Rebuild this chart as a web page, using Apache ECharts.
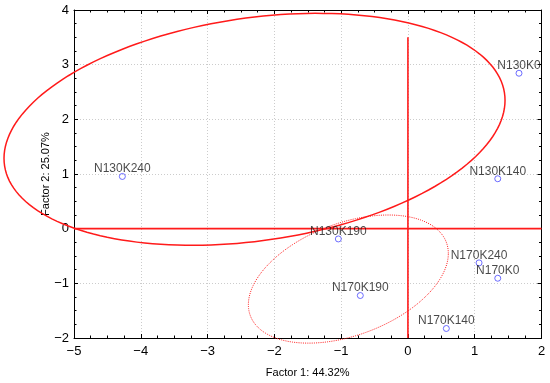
<!DOCTYPE html>
<html>
<head>
<meta charset="utf-8">
<script src="https://cdn.jsdelivr.net/npm/echarts@6/dist/echarts.min.js"></script>
<style>
html,body{margin:0;padding:0;background:#fff;}
#chart{width:550px;height:383px;}
</style>
</head>
<body>
<div id="chart"></div>
<script>
// ---- data ----
const pointNames = ['N130K0','N130K140','N130K240','N130K190','N170K240','N170K0','N170K190','N170K140'];
const factor1 = [1.663, 1.345, -4.276, -1.042, 1.065, 1.345, -0.713, 0.575];
const factor2 = [2.843, 0.913, 0.955, -0.188, -0.626, -0.907, -1.223, -1.826];

// confidence ellipses: centre, half extent along x, half extent along y, correlation
const ellipseCenterX = [-2.297, -0.892];
const ellipseCenterY = [1.817, -0.922];
const ellipseHalfX = [3.751, 1.497];
const ellipseHalfY = [2.122, 1.172];
const ellipseRho = [0.25, 0.40];

// reference lines
const hLine = [[-5, 0], [2, 0]];
const vLine = [[0, -2], [0, 3.5]];

const xTicks = {min: -5, max: 2, interval: 1};
const yTicks = {min: -2, max: 4, interval: 1};

// ---- chart ----
const FONT = 'Liberation Sans, Arial, sans-serif';
const fmt = v => v < 0 ? '\u2212' + Math.abs(v) : String(v);

const scatterData = pointNames.map((n, i) => ({name: n, value: [factor1[i], factor2[i]]}));
const ellipseData = ellipseCenterX.map((cx, i) => [cx, ellipseCenterY[i], ellipseHalfX[i], ellipseHalfY[i], ellipseRho[i]]);

function axisCommon(extra) {
  return Object.assign({
    type: 'value',
    axisLine: {show: true, onZero: false, lineStyle: {color: '#000', width: 1}},
    axisTick: {show: true, inside: true, length: 4, lineStyle: {color: '#000', width: 1}},
    minorTick: {show: true, splitNumber: 4, length: 2.5, lineStyle: {color: '#000', width: 1}},
    minorSplitLine: {show: false}
  }, extra);
}

const option = {
  animation: false,
  backgroundColor: '#fff',
  grid: {left: 74, right: 8.5, top: 10, bottom: 44.7, containLabel: false},
  xAxis: [
    axisCommon({
      min: xTicks.min, max: xTicks.max, interval: xTicks.interval, position: 'bottom',
      splitLine: {show: true, lineStyle: {color: '#cccccc', type: [1, 2], width: 1}},
      axisLabel: {show: true, formatter: fmt, color: '#000', fontFamily: FONT, fontSize: 13, margin: 7},
      name: 'Factor 1: 44.32%', nameLocation: 'middle', nameGap: 29, nameMoveOverlap: false,
      nameTextStyle: {color: '#000', fontFamily: FONT, fontSize: 11}
    }),
    axisCommon({
      min: xTicks.min, max: xTicks.max, interval: xTicks.interval, position: 'top',
      splitLine: {show: false}, axisLabel: {show: false}
    })
  ],
  yAxis: [
    axisCommon({
      min: yTicks.min, max: yTicks.max, interval: yTicks.interval, position: 'left',
      splitLine: {show: true, lineStyle: {color: '#cccccc', type: [1, 2], width: 1}},
      axisLabel: {show: true, formatter: fmt, color: '#000', fontFamily: FONT, fontSize: 13, margin: 5},
      name: 'Factor 2: 25.07%', nameLocation: 'middle', nameGap: 23, nameMoveOverlap: false,
      nameTextStyle: {color: '#000', fontFamily: FONT, fontSize: 11}
    }),
    axisCommon({
      min: yTicks.min, max: yTicks.max, interval: yTicks.interval, position: 'right',
      splitLine: {show: false}, axisLabel: {show: false}
    })
  ],
  series: [
    {
      type: 'custom',
      clip: false,
      silent: true,
      z: 3,
      encode: {x: 0, y: 1},
      data: ellipseData,
      renderItem: function (params, api) {
        const cx = api.value(0), cy = api.value(1), hx = api.value(2), hy = api.value(3), r = api.value(4);
        const s = Math.sqrt(1 - r * r);
        const pts = [];
        const N = 180;
        for (let k = 0; k <= N; k++) {
          const t = 2 * Math.PI * k / N;
          pts.push(api.coord([cx + hx * Math.cos(t), cy + hy * (r * Math.cos(t) + s * Math.sin(t))]));
        }
        const dotted = params.dataIndex === 1;
        return {
          type: 'polyline',
          shape: {points: pts},
          style: {
            stroke: '#ff1a1a',
            fill: 'none',
            lineWidth: dotted ? 1 : 1.5,
            lineDash: dotted ? [1, 1.2] : null
          }
        };
      }
    },
    {
      type: 'line', data: hLine, symbol: 'none', silent: true, z: 3,
      lineStyle: {color: '#ff1a1a', width: 1.6}
    },
    {
      type: 'line', data: vLine, symbol: 'none', silent: true, z: 3,
      lineStyle: {color: '#ff1a1a', width: 1.6}
    },
    {
      type: 'scatter',
      data: scatterData,
      symbol: 'circle',
      symbolSize: 6,
      z: 5,
      itemStyle: {color: 'rgba(255,255,255,0)', borderColor: '#4848ff', borderWidth: 1},
      label: {
        show: true, position: 'top', distance: -2,
        formatter: p => p.name,
        color: '#1a1a1a', fontFamily: FONT, fontSize: 12
      }
    }
  ]
};

const chart = echarts.init(document.getElementById('chart'), null, {renderer: 'canvas'});
chart.setOption(option);
</script>
</body>
</html>
